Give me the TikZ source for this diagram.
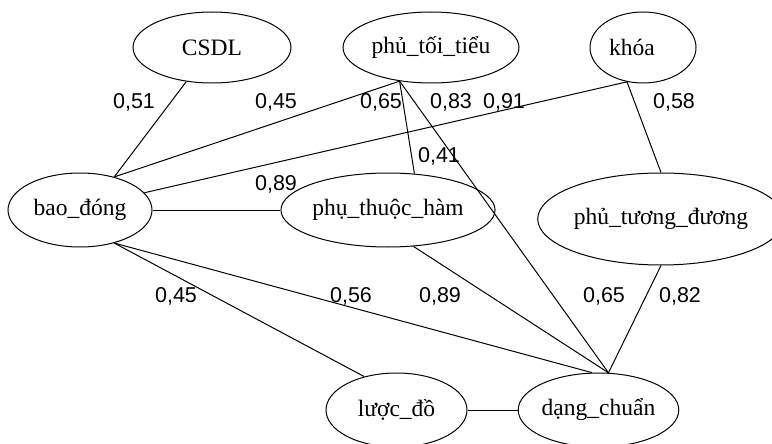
\documentclass[tikz,border=0pt]{standalone}
\usepackage{fontspec}
\setmainfont{Liberation Serif}
\newfontfamily\numfont{Liberation Sans}
\usepackage{tikz}
\usetikzlibrary{shapes.geometric}

\begin{document}
\begin{tikzpicture}[
  x={(1pt,0)}, y={(0,-1pt)},
  % ── node styles ──────────────────────────────────────────
  concept/.style={
    draw, ellipse, line width=1pt,
    inner sep=0pt,
    font=\fontsize{23.5}{25}\selectfont
  },
  % ── edge style ───────────────────────────────────────────
  link/.style={line width=1pt},
  % ── weight label ─────────────────────────────────────────
  weight/.style={font=\numfont\fontsize{21.5}{23}\selectfont, inner sep=0pt}
]
\useasboundingbox (0,0) rectangle (772,444);

%% ── Top row ──
\node[concept, minimum width=158pt, minimum height=71pt] (CSDL) at (212,47.5)  {CSDL};
\node[concept, minimum width=176pt, minimum height=71pt] (PTT)  at (431,47.5)  {phủ\_tối\_tiểu};
\node[concept, minimum width=106pt, minimum height=71pt] (KH)   at (643,47.5)  {khóa\hspace*{22pt}};

%% ── Middle row ──
\node[concept, minimum width=144pt, minimum height=74pt] (BD)   at (80,210)    {bao\_đóng};
\node[concept, minimum width=192pt, minimum height=74pt] (PTH)  at (388,210)   {phụ\_thuộc\_hàm};
\node[concept, minimum width=212pt, minimum height=92pt] (PTD)  at (661,219)   {phủ\_tương\_đương};

%% ── Bottom row ──
\node[concept, minimum width=141pt, minimum height=74pt] (LD)   at (396.5,410) {lược\_đồ};
\node[concept, minimum width=159pt, minimum height=74pt] (DC)   at (598.5,410) {dạng\_chuẩn};

%% ── Edges: to bao_đóng ──
\draw[link] (CSDL.-127) -- (BD.44);
\draw[link] (PTT.-133)  -- (BD.44);
\draw[link] (KH.-115)   -- (BD.15);
\draw[link] (BD.east)   -- (PTH.west);

%% ── Edges: from phủ_tối_tiểu and khóa ──
\draw[link] (PTT.-133)  -- (PTH.54);
\draw[link] (PTT.-133)  -- (DC.75);
\draw[link] (KH.-115)   -- (PTD.north);

%% ── Edges: to dạng_chuẩn ──
\draw[link] (PTH.-55)   -- (DC.75);
\draw[link] (PTD.south) -- (DC.75);
\draw[link] (BD.-44)    -- (DC.100);
\draw[link] (BD.-44)    -- (LD.134);
\draw[link] (LD.east)   -- (DC.west);

%% ── Weights ──
\node[weight] (w1)  at (134,102) {0,51};
\node[weight] (w2)  at (276,102) {0,45};
\node[weight] (w3)  at (381,102) {0,65};
\node[weight] (w4)  at (451,102) {0,83};
\node[weight] (w5)  at (504,102) {0,91};
\node[weight] (w6)  at (674,102) {0,58};
\node[weight] (w7)  at (439,156) {0,41};
\node[weight] (w8)  at (276,184) {0,89};
\node[weight] (w9)  at (176,296) {0,45};
\node[weight] (w10) at (351,296) {0,56};
\node[weight] (w11) at (440,296) {0,89};
\node[weight] (w12) at (604,296) {0,65};
\node[weight] (w13) at (680,296) {0,82};

\end{tikzpicture}
\end{document}
